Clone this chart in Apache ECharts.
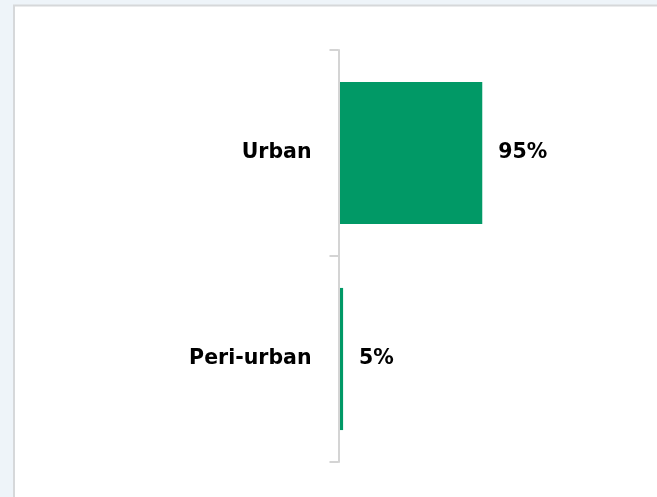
<!DOCTYPE html>
<html>
<head>
<meta charset="utf-8">
<script src="https://cdn.jsdelivr.net/npm/echarts@6/dist/echarts.min.js"></script>
<style>
  html, body { margin: 0; padding: 0; background: #eef4f9; }
  #chart { width: 657px; height: 497px; }
</style>
</head>
<body>
<div id="chart"></div>
<script>
// Share of area type
const categories = ['Urban', 'Peri-urban'];
const shares = [95, 5];
const valueLabels = ['95%', '5%'];

const chart = echarts.init(document.getElementById('chart'), null, { renderer: 'canvas' });

chart.setOption({
  backgroundColor: 'transparent',
  animation: false,
  graphic: [{
    type: 'rect',
    z: -10,
    shape: { x: 14, y: 5.5, width: 700, height: 600 },
    style: { fill: '#ffffff', stroke: '#d6d8da', lineWidth: 2 }
  }],
  grid: { left: 340, right: 167, top: 50, bottom: 35, containLabel: false },
  xAxis: {
    type: 'value',
    min: 3,
    max: 100,
    show: false
  },
  yAxis: {
    type: 'category',
    data: categories,
    inverse: true,
    offset: 1.5,
    axisLine: { show: true, lineStyle: { color: '#d4d4d4', width: 2 } },
    axisTick: { show: true, length: 9, lineStyle: { color: '#d4d4d4', width: 2 } },
    axisLabel: {
      margin: 27,
      color: '#000000',
      fontFamily: 'DejaVu Sans',
      fontWeight: 'bold',
      fontSize: 20.5,
      padding: [8, 0, 0, 0]
    },
    splitLine: { show: false }
  },
  series: [{
    type: 'bar',
    data: shares,
    barCategoryGap: '31%',
    itemStyle: { color: '#019966' },
    label: {
      show: true,
      position: 'right',
      distance: 16,
      color: '#000000',
      fontFamily: 'DejaVu Sans',
      fontWeight: 'bold',
      fontSize: 20.5,
      padding: [8, 0, 0, 0],
      formatter: p => valueLabels[p.dataIndex]
    }
  }]
});
</script>
</body>
</html>
